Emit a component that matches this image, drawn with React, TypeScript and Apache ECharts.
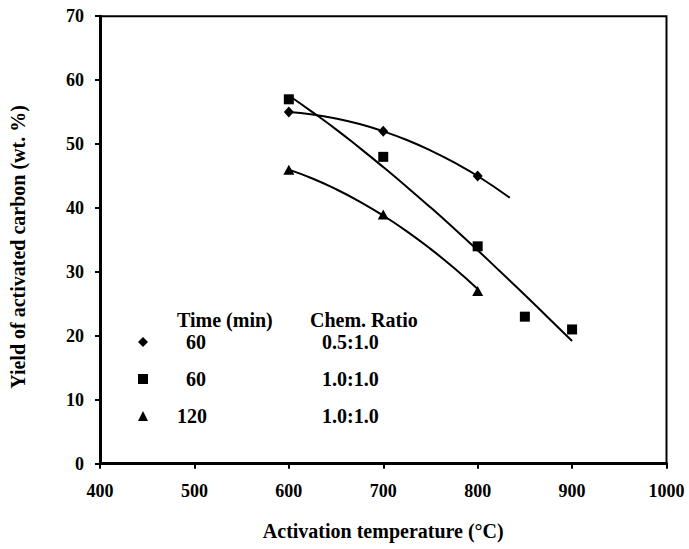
import React, { useEffect, useRef } from "react";
import * as echarts from "echarts";

const xTicks = [400, 500, 600, 700, 800, 900, 1000];
const yTicks = [0, 10, 20, 30, 40, 50, 60, 70];

const seriesNames = ["60 min, 0.5:1.0", "60 min, 1.0:1.0", "120 min, 1.0:1.0"];
const legendTime = ["60", "60", "120"];
const legendRatio = ["0.5:1.0", "1.0:1.0", "1.0:1.0"];
const symbols = ["diamond", "rect", "triangle"];

// measured points
const diamondPts: [number, number][] = [[600, 55], [700, 52], [800, 45]];
const squarePts: [number, number][] = [[600, 57], [700, 48], [800, 34], [850, 23], [900, 21]];
const trianglePts: [number, number][] = [[600, 46], [700, 39], [800, 27]];

// trend curves
const diamondCurve: [number, number][] = [
  [600, 55.0], [625, 54.63], [650, 54.0], [675, 53.13], [700, 52.0], [725, 50.63],
  [750, 49.0], [775, 47.13], [800, 45.0], [834, 41.6],
];
const squareCurve: [number, number][] = [
  [600, 57.6], [625, 55.0], [650, 52.3], [675, 49.4], [700, 46.4], [725, 43.3],
  [750, 40.1], [775, 36.8], [800, 33.4], [825, 29.9], [850, 26.4], [875, 22.8], [900, 19.2],
];
const triangleCurve: [number, number][] = [
  [600, 46.0], [625, 44.61], [650, 42.94], [675, 41.01], [700, 38.81], [725, 36.35],
  [750, 33.61], [775, 30.61], [800, 27.34],
];

const FONT = "'Liberation Serif', 'Times New Roman', serif";

export default function App() {
  const ref = useRef<HTMLDivElement>(null);
  useEffect(() => {
    if (!ref.current) return;
    const chart = echarts.init(ref.current, null, { renderer: "svg" });
    const pts = [diamondPts, squarePts, trianglePts];
    const curves = [diamondCurve, squareCurve, triangleCurve];
    const sizes: any[] = [[10, 11], 10, [11, 10]];
    const boldTxt = { fontFamily: FONT, fontWeight: "bold", fontSize: 20, color: "#000" };
    chart.setOption({
      animation: false,
      textStyle: { fontFamily: FONT },
      grid: {
        left: 99.5, top: 16.2, right: 22.5, bottom: 85.3,
        show: true, borderColor: "#000", borderWidth: 2, backgroundColor: "transparent",
      },
      xAxis: {
        type: "value", min: xTicks[0], max: xTicks[xTicks.length - 1], interval: 100,
        name: "Activation temperature (\u00B0C)", nameLocation: "middle", nameGap: 57,
        nameTextStyle: { ...boldTxt },
        axisLine: { lineStyle: { color: "#000", width: 3 } },
        axisTick: { inside: false, length: 5, lineStyle: { color: "#000", width: 2 } },
        axisLabel: { margin: 18, fontFamily: FONT, fontWeight: "bold", fontSize: 18, color: "#000", formatter: (v: number) => String(v) },
        splitLine: { show: false },
      },
      yAxis: {
        type: "value", min: yTicks[0], max: yTicks[yTicks.length - 1], interval: 10,
        name: "Yield of activated carbon (wt. %)", nameLocation: "middle", nameGap: 72,
        nameTextStyle: { ...boldTxt, padding: [0, 14, 0, 0] },
        axisLine: { lineStyle: { color: "#000", width: 3 } },
        axisTick: { inside: false, length: 5, lineStyle: { color: "#000", width: 2 } },
        axisLabel: { margin: 16, fontFamily: FONT, fontWeight: "bold", fontSize: 18, color: "#000", formatter: (v: number) => String(v) },
        splitLine: { show: false },
      },
      legend: {
        orient: "vertical", left: 133, top: 327, itemWidth: 10, itemHeight: 10, itemGap: 17,
        data: seriesNames.map((n, i) => ({ name: n, icon: symbols[i] })),
        formatter: (name: string) => {
          const i = seriesNames.indexOf(name);
          const pre = legendTime[i].length > 2 ? "p2" : "p1";
          const mid = legendTime[i].length > 2 ? "q2" : "q1";
          return `{${pre}| }{t|${legendTime[i]}}{${mid}| }{t|${legendRatio[i]}}`;
        },
        textStyle: {
          ...boldTxt, lineHeight: 20,
          rich: {
            p1: { width: 33 },
            p2: { width: 24 },
            q1: { width: 116 },
            q2: { width: 115 },
            t: { ...boldTxt },
          },
        },
        itemStyle: { color: "#000", opacity: 1 },
      },
      graphic: [
        { type: "text", left: 177, top: 310, style: { text: "Time (min)", font: `bold 20px ${FONT}`, fill: "#000" } },
        { type: "text", left: 310, top: 310, style: { text: "Chem. Ratio", font: `bold 20px ${FONT}`, fill: "#000" } },
      ],
      series: [
        ...curves.map((c) => ({
          type: "line", data: c, showSymbol: false, symbol: "none", smooth: true,
          lineStyle: { color: "#000", width: 2 }, silent: true, z: 2,
        })),
        ...pts.map((p, i) => ({
          type: "scatter", name: seriesNames[i], data: p, symbol: symbols[i], symbolSize: sizes[i],
          itemStyle: { color: "#000", opacity: 1 }, z: 3,
        })),
      ],
    });
    return () => chart.dispose();
  }, []);
  return <div ref={ref} style={{ width: 689, height: 549, position: "absolute", left: 0, top: 0 }} />;
}
